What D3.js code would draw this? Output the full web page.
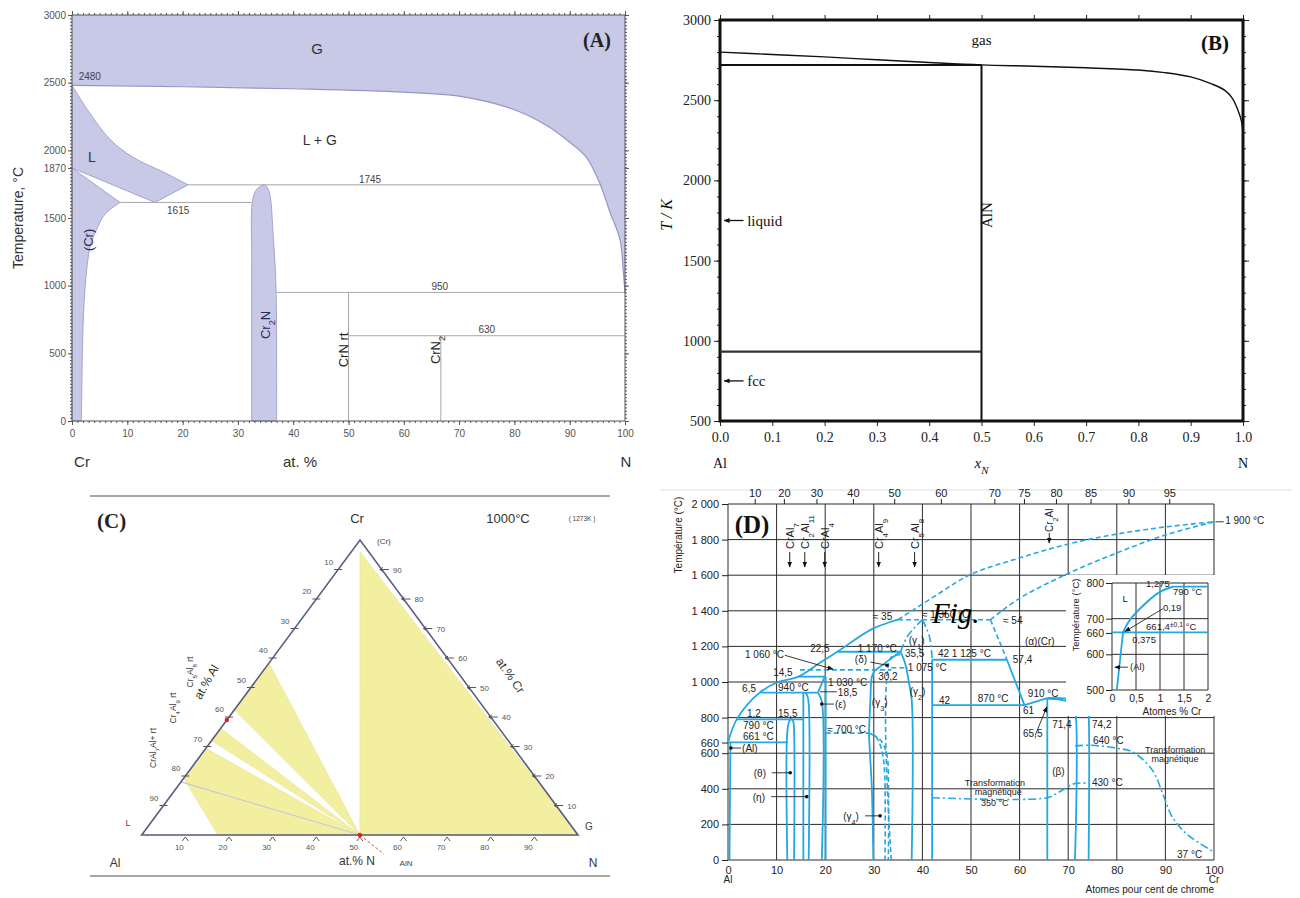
<!DOCTYPE html>
<html>
<head>
<meta charset="utf-8">
<script src="https://cdn.jsdelivr.net/npm/d3@7/dist/d3.min.js"></script>
<style>
  body { margin: 0; background: #fff; }
  svg { display: block; }
</style>
</head>
<body>
<svg id="fig" width="1300" height="898"></svg>
<script>
// ---------------- (A) Cr–N binary ----------------
const aTicksY = [0, 500, 1000, 1500, 1870, 2000, 2500, 3000];
const aTicksX = [0, 10, 20, 30, 40, 50, 60, 70, 80, 90, 100];
const aGasBoundary = [[0,2480],[20,2470],[40,2455],[60,2430],[70,2400],[80,2300],[86,2180],[90,2060],[93,1950],[95.5,1750],[97.3,1540],[99.1,1340],[99.7,1100],[100,950]];
const aLiquidUpper = [[0,2480],[2.8,2300],[6.9,2080],[11,1950],[17,1830],[21,1745]];
const aLiquidLower = [[21,1745],[15,1615],[0,1870]];
const aCrSolvus = [[8.7,1615],[6,1530],[4.5,1420],[3.3,1290],[2.5,1050],[2,700],[1.8,300],[1.7,0]];
const aCr2N = [[32.5,0],[32.5,1200],[32.6,1615],[33.3,1705],[34.8,1745],[35.6,1700],[36.4,1360],[36.9,970],[37,400],[37,0]];
const aIsotherms = [[1745,21,95.8],[1615,8.7,32.5],[950,37,100],[630,50,100]];
const aVerticals = [[50,0,950],[66.7,0,630]];

// ---------------- (B) Al–N binary ----------------
const bTicksX = [0, 0.1, 0.2, 0.3, 0.4, 0.5, 0.6, 0.7, 0.8, 0.9, 1.0];
const bTicksY = [500, 1000, 1500, 2000, 2500, 3000];
const bGasLine = [[0,2800],[0.1,2785],[0.2,2770],[0.3,2752],[0.4,2735],[0.5,2720],[0.6,2712],[0.7,2702],[0.8,2688],[0.85,2672],[0.9,2645],[0.94,2602],[0.966,2560],[0.98,2510],[0.99,2440],[0.997,2370],[1.0,2300]];
const bAlNMelt = 2720;
const bAlMelt = 933;
const bAlNx = 0.5;

// ---------------- (C) Al–Cr–N isothermal section, 1000 °C (Al, Cr, N at.%) ----------------
const cTicks = [10, 20, 30, 40, 50, 60, 70, 80, 90];
const cRegions = [
  [[2,96,2],[50,0,50],[0,0,100]],
  [[41.7,58.3,0],[57.6,42.4,0],[50,0,50]],
  [[63.8,36.2,0],[68,32,0],[50,0,50]],
  [[70.6,29.4,0],[80.8,19.2,0],[82.5,0,17.5],[50,0,50]]
];
const cTieLine = [[82,18,0],[50,0,50]];
const cRedDots = [[61,39,0],[50,0,50]];

// ---------------- (D) Al–Cr binary ----------------
const dTicksY = [0, 200, 400, 600, 660, 800, 1000, 1200, 1400, 1600, 1800, 2000];
const dTicksX = [0, 10, 20, 30, 40, 50, 60, 70, 80, 90, 100];
const dTopLabels = ['10','20','30','40','50','60','70','75','80','85','90','95'];
const dTopAt = [5.5, 11.5, 18.2, 25.7, 34.2, 43.8, 54.8, 60.9, 67.5, 74.6, 82.4, 90.8];
const dCompounds = [['CrAl_{7}',12.7],['Cr_{2}Al_{11}',15.8],['CrAl_{4}',19.9],['Cr_{4}Al_{9}',31],['Cr_{5}Al_{8}',38.4]];
const dCr2Al = ['Cr_{2}Al', 66.1];
const dSolid = [
  [[0,660],[1.8,790],[6.5,940],[10.3,1000],[14.5,1030],[19,1110],[22.5,1170],[29.8,1300],[35,1350]],
  [[0.3,0],[0.5,660]],
  [[0,661],[12.3,661]],
  [[1.8,790],[15.5,790]],
  [[6.5,940],[18.5,940]],
  [[14.5,1030],[20.1,1030]],
  [[22.5,1170],[35.5,1170]],
  [[42,1125],[57.4,1125]],
  [[42,870],[61,870]],
  [[57.4,1125],[61,870]],
  [[61,870],[65.7,910]],
  [[12.2,0],[12.2,720],[12.6,780],[13,792],[13.4,780],[13.6,720],[13.6,0]],
  [[15.5,0],[15.5,940]],
  [[16.6,0],[16.6,880],[16.3,925],[15.9,940]],
  [[19.3,0],[19.3,890],[18.5,940]],
  [[18.5,940],[19.9,1030]],
  [[20.1,0],[20.1,1030]],
  [[29.9,0],[29.6,400],[29.2,600],[29,713]],
  [[29,713],[29.3,900],[29.6,1030],[30.2,1065]],
  [[30.2,1065],[33,1120],[35.5,1170]],
  [[35.5,1170],[36.5,1100],[37.2,1000],[37.8,900],[37.8,0]],
  [[42,0],[42,1125]],
  [[65.7,0],[65.7,910]],
  [[65.7,905],[68.5,900],[70.8,880],[71.4,850],[71.4,0]],
  [[65.7,910],[69,908],[72.5,895],[74,860],[74.2,820],[74.2,0]]
];
const dDashed = [
  [[35,1350],[43,1490],[50,1605],[60,1697],[70,1775],[80,1831],[90,1871],[100,1900]],
  [[54,1350],[60,1470],[70,1610],[80,1725],[90,1826],[100,1900]],
  [[35,1350],[54,1350]],
  [[54,1350],[57.4,1125]],
  [[14.8,1068],[33.6,1068]],
  [[33.6,1080],[37,1080]],
  [[20.1,713],[29,713]],
  [[29,713],[30.5,690],[31.6,620],[32.2,500],[32.3,0]],
  [[29.8,705],[31.5,670],[32.7,590],[33,450],[33,0]],
  [[33.6,0],[33.6,1140],[36,1150]]
];
const dDashDot = [
  [[35.5,1170],[37,1260],[40,1350]],
  [[40,1350],[41.5,1250],[42,1125]],
  [[42,350],[65.7,350],[68,380],[71.4,430],[74.2,430]],
  [[71.4,640],[74.2,645],[80,628],[83.3,606],[87.3,505],[89.7,354],[91.4,242],[94.2,150],[97,95],[100,45]]
];
// inset: Al-rich corner
const iTicksY = [500, 600, 660, 700, 800];
const iTicksX = [0, 0.5, 1, 1.5, 2];
const iLiquidus = [[0.23,661.4],[0.375,697],[0.73,747],[1.0,775],[1.275,790]];
const iLines = [[[1.275,790],[2,790]], [[0,661.4],[2,661.4]], [[0.1,500],[0.23,661.4]]];

// ================= drawing =================
const SANS = "'Liberation Sans', Arial, sans-serif";
const SERIF = "'Liberation Serif', 'Times New Roman', serif";
const svg = d3.select('#fig');

const defs = svg.append('defs');
defs.append('marker').attr('id', 'arr').attr('viewBox', '0 0 10 10').attr('refX', 9).attr('refY', 5)
  .attr('markerWidth', 6).attr('markerHeight', 6).attr('markerUnits', 'userSpaceOnUse').attr('orient', 'auto')
  .append('path').attr('d', 'M0,1 L10,5 L0,9 Z').attr('fill', '#111');

function rich(t, str) {
  str.split(/(_\{[^}]*\}|\^\{[^}]*\})/).forEach(p => {
    if (!p) return;
    if (p[0] === '_') t.append('tspan').attr('baseline-shift', 'sub').attr('font-size', '72%').text(p.slice(2, -1));
    else if (p[0] === '^') t.append('tspan').attr('baseline-shift', 'super').attr('font-size', '72%').text(p.slice(2, -1));
    else t.append('tspan').text(p);
  });
}
function label(g, x, y, str, o = {}) {
  const t = g.append('text')
    .attr('font-family', o.font || SANS).attr('font-size', o.size || 10)
    .attr('fill', o.fill || '#222').attr('text-anchor', o.anchor || 'start');
  if (o.weight) t.attr('font-weight', o.weight);
  if (o.italic) t.attr('font-style', 'italic');
  if (o.rotate != null) t.attr('transform', `translate(${x},${y}) rotate(${o.rotate})`);
  else t.attr('x', x).attr('y', y);
  rich(t, str);
  return t;
}
function styleAxis(g, color, font, size) {
  g.select('.domain').remove();
  g.selectAll('line').attr('stroke', color);
  g.selectAll('text').attr('fill', color).attr('font-family', font).attr('font-size', size);
}

// ---------- panel A ----------
const aX = d3.scaleLinear([0, 100], [72, 625]);
const aY = d3.scaleLinear([0, 3000], [421, 15]);
const aCurve = d3.line().x(d => aX(d[0])).y(d => aY(d[1])).curve(d3.curveCatmullRom);
const aLin = d3.line().x(d => aX(d[0])).y(d => aY(d[1]));
const gA = svg.append('g');
const LAV = '#c8c8e7', LAV_EDGE = '#9696c6';

gA.append('path')
  .attr('d', aCurve(aGasBoundary) + `L${aX(100)},${aY(3000)}L${aX(0)},${aY(3000)}Z`)
  .attr('fill', LAV).attr('stroke', 'none');
gA.append('path').attr('d', aCurve(aGasBoundary)).attr('fill', 'none').attr('stroke', LAV_EDGE).attr('stroke-width', 1.2);
gA.append('path')
  .attr('d', aCurve(aLiquidUpper) + aLin(aLiquidLower).replace('M', 'L') + 'Z')
  .attr('fill', LAV).attr('stroke', LAV_EDGE).attr('stroke-width', 0.8);
gA.append('path')
  .attr('d', `M${aX(0)},${aY(0)}L${aX(0)},${aY(1870)}` + aCurve(aCrSolvus).replace('M', 'L') + 'Z')
  .attr('fill', LAV).attr('stroke', LAV_EDGE).attr('stroke-width', 0.8);
gA.append('path').attr('d', aCurve(aCr2N) + 'Z')
  .attr('fill', LAV).attr('stroke', LAV_EDGE).attr('stroke-width', 0.8);

gA.selectAll('line.iso').data(aIsotherms).join('line')
  .attr('x1', d => aX(d[1])).attr('x2', d => aX(d[2])).attr('y1', d => aY(d[0])).attr('y2', d => aY(d[0]))
  .attr('stroke', '#a8a8a8').attr('stroke-width', 1);
gA.selectAll('line.vert').data(aVerticals).join('line')
  .attr('x1', d => aX(d[0])).attr('x2', d => aX(d[0])).attr('y1', d => aY(d[1])).attr('y2', d => aY(d[2]))
  .attr('stroke', '#a8a8a8').attr('stroke-width', 1);

// axes A
const axA = [
  [d3.axisLeft(aY).tickValues(aTicksY).tickSize(4).tickPadding(2).tickFormat(d3.format('d')), `translate(${aX(0)},0)`],
  [d3.axisLeft(aY).tickValues(d3.range(0, 3001, 25)).tickSize(2).tickFormat(''), `translate(${aX(0)},0)`],
  [d3.axisRight(aY).tickValues(d3.range(0, 3001, 25)).tickSize(2).tickFormat(''), `translate(${aX(100)},0)`],
  [d3.axisRight(aY).tickValues(aTicksY).tickSize(4).tickFormat(''), `translate(${aX(100)},0)`],
  [d3.axisBottom(aX).tickValues(aTicksX).tickSize(4).tickPadding(5), `translate(0,${aY(0)})`],
  [d3.axisBottom(aX).tickValues(d3.range(0, 101, 1)).tickSize(2).tickFormat(''), `translate(0,${aY(0)})`],
  [d3.axisTop(aX).tickValues(d3.range(0, 101, 1)).tickSize(2).tickFormat(''), `translate(0,${aY(3000)})`],
  [d3.axisTop(aX).tickValues(aTicksX).tickSize(4).tickFormat(''), `translate(0,${aY(3000)})`]
];
axA.forEach(([ax, tr]) => gA.append('g').attr('transform', tr).call(ax).call(g => styleAxis(g, '#555', SANS, 10)));
gA.append('rect').attr('x', aX(0)).attr('y', aY(3000)).attr('width', aX(100) - aX(0)).attr('height', aY(0) - aY(3000))
  .attr('fill', 'none').attr('stroke', '#555').attr('stroke-width', 1);

[['G', 44.3, 2712, 15], ['L + G', 44.8, 2040, 14], ['L', 3.6, 1914, 14]].forEach(d =>
  label(gA, aX(d[1]), aY(d[2]), d[0], { size: d[3], anchor: 'middle', fill: '#333' }));
[['2480', 1.2, 2520, 'start'], ['1745', 53.9, 1759, 'middle'], ['1615', 19.2, 1530, 'middle'], ['950', 66.5, 968, 'middle'], ['630', 75, 650, 'middle']]
  .forEach(d => label(gA, aX(d[1]), aY(d[2]), d[0], { size: 10, anchor: d[3], fill: '#444' }));
[['(Cr)', 2.9, 1338, '#2a2a5a'], ['Cr_{2}N', 34.9, 710, '#2a2a5a'], ['CrN rt', 49, 525, '#222'], ['CrN_{2}', 65.6, 525, '#222']]
  .forEach(d => label(gA, aX(d[1]) + 5, aY(d[2]), d[0], { size: 13, anchor: 'middle', rotate: -90, fill: d[3] }));
label(gA, 23, 218, 'Temperature, °C', { size: 14, anchor: 'middle', rotate: -90, fill: '#333' });
label(gA, 82, 467, 'Cr', { size: 15, anchor: 'middle', fill: '#333' });
label(gA, 300, 467, 'at. %', { size: 15, anchor: 'middle', fill: '#333' });
label(gA, 626, 467, 'N', { size: 15, anchor: 'middle', fill: '#333' });
label(gA, 597, 47, '(A)', { size: 20, anchor: 'middle', font: SERIF, weight: 'bold', fill: '#222' });

// ---------- panel B ----------
const bX = d3.scaleLinear([0, 1], [720, 1243]);
const bY = d3.scaleLinear([500, 3000], [421, 20]);
const gB = svg.append('g');
const bLine = d3.line().x(d => bX(d[0])).y(d => bY(d[1])).curve(d3.curveCatmullRom);
const axB = [
  [d3.axisBottom(bX).tickValues(bTicksX).tickSize(5).tickPadding(6).tickFormat(d3.format('.1f')), `translate(0,${bY(500)})`],
  [d3.axisTop(bX).tickValues(bTicksX).tickSize(5).tickFormat(''), `translate(0,${bY(3000)})`],
  [d3.axisLeft(bY).tickValues(bTicksY).tickSize(6).tickPadding(3).tickFormat(d3.format('d')), `translate(${bX(0)},0)`],
  [d3.axisLeft(bY).tickValues(d3.range(500, 3001, 100)).tickSize(3).tickFormat(''), `translate(${bX(0)},0)`],
  [d3.axisRight(bY).tickValues(bTicksY).tickSize(6).tickFormat(''), `translate(${bX(1)},0)`],
  [d3.axisRight(bY).tickValues(d3.range(500, 3001, 100)).tickSize(3).tickFormat(''), `translate(${bX(1)},0)`]
];
axB.forEach(([ax, tr]) => gB.append('g').attr('transform', tr).call(ax).call(g => styleAxis(g, '#222', SERIF, 14)));
gB.append('rect').attr('x', bX(0)).attr('y', bY(3000)).attr('width', bX(1) - bX(0)).attr('height', bY(500) - bY(3000))
  .attr('fill', 'none').attr('stroke', '#111').attr('stroke-width', 3);
gB.append('path').attr('d', bLine(bGasLine)).attr('fill', 'none').attr('stroke', '#111').attr('stroke-width', 1.4);
gB.append('line').attr('x1', bX(0)).attr('x2', bX(bAlNx)).attr('y1', bY(bAlNMelt)).attr('y2', bY(bAlNMelt)).attr('stroke', '#111').attr('stroke-width', 2);
gB.append('line').attr('x1', bX(bAlNx)).attr('x2', bX(bAlNx)).attr('y1', bY(bAlNMelt)).attr('y2', bY(500)).attr('stroke', '#111').attr('stroke-width', 2);
gB.append('line').attr('x1', bX(0)).attr('x2', bX(bAlNx)).attr('y1', bY(bAlMelt)).attr('y2', bY(bAlMelt)).attr('stroke', '#333').attr('stroke-width', 2.2);
[[1750, 'liquid'], [750, 'fcc']].forEach(d => {
  gB.append('line').attr('x1', bX(0.045)).attr('x2', bX(0.008)).attr('y1', bY(d[0])).attr('y2', bY(d[0]))
    .attr('stroke', '#111').attr('stroke-width', 1.3).attr('marker-end', 'url(#arr)');
  label(gB, bX(0.052), bY(d[0]) + 5, d[1], { size: 15, font: SERIF, fill: '#111' });
});
label(gB, bX(0.5), bY(2844), 'gas', { size: 15, font: SERIF, anchor: 'middle', fill: '#111' });
label(gB, bX(0.53) - 5, bY(1784), 'AlN', { size: 15, font: SERIF, anchor: 'middle', rotate: -90, fill: '#111' });
label(gB, 1215, 50, '(B)', { size: 21, font: SERIF, weight: 'bold', anchor: 'middle', fill: '#111' });
label(gB, 672, 215, 'T / K', { size: 16, font: SERIF, italic: true, anchor: 'middle', rotate: -90, fill: '#111' });
label(gB, bX(0), 468, 'Al', { size: 14, font: SERIF, anchor: 'middle', fill: '#111' });
label(gB, bX(0.5), 468, 'x_{N}', { size: 15, font: SERIF, italic: true, anchor: 'middle', fill: '#111' });
label(gB, bX(1), 468, 'N', { size: 14, font: SERIF, anchor: 'middle', fill: '#111' });

// ---------- panel C ----------
const gC = svg.append('g');
const vAl = [141.7, 835], vCr = [360, 540], vN = [578, 835];
const tern = p => {
  const s = p[0] + p[1] + p[2];
  return [(vAl[0] * p[0] + vCr[0] * p[1] + vN[0] * p[2]) / s, (vAl[1] * p[0] + vCr[1] * p[1] + vN[1] * p[2]) / s];
};
gC.append('line').attr('x1', 90).attr('x2', 610).attr('y1', 496).attr('y2', 496).attr('stroke', '#888').attr('stroke-width', 1.5);
gC.append('line').attr('x1', 90).attr('x2', 610).attr('y1', 876).attr('y2', 876).attr('stroke', '#888').attr('stroke-width', 1.5);
gC.selectAll('path.reg').data(cRegions).join('path')
  .attr('d', d => d3.line()(d.map(tern)) + 'Z').attr('fill', '#f3efa0').attr('stroke', '#e9e48a').attr('stroke-width', 0.6);
gC.append('path').attr('d', d3.line()(cTieLine.map(tern))).attr('stroke', '#c9c9d6').attr('stroke-width', 1.2);
gC.append('path').attr('d', d3.line()([[100,0,0],[0,100,0],[0,0,100]].map(tern)) + 'Z')
  .attr('fill', 'none').attr('stroke', '#5a5a80').attr('stroke-width', 1.6);
const pAlN = tern([50, 0, 50]);
gC.append('line').attr('x1', pAlN[0]).attr('y1', pAlN[1]).attr('x2', pAlN[0] + 24).attr('y2', pAlN[1] + 19)
  .attr('stroke', '#e05050').attr('stroke-width', 1).attr('stroke-dasharray', '3,2');
gC.selectAll('circle.red').data(cRedDots).join('circle')
  .attr('cx', d => tern(d)[0]).attr('cy', d => tern(d)[1]).attr('r', 2.2).attr('fill', '#e02020');
cTicks.forEach(v => {
  const l = tern([v, 100 - v, 0]);
  gC.append('line').attr('x1', l[0] - 4).attr('x2', l[0] + 4).attr('y1', l[1]).attr('y2', l[1]).attr('stroke', '#555');
  label(gC, l[0] - 5, l[1] - 5, String(v), { size: 8, anchor: 'end', fill: '#555' });
  const r = tern([0, v, 100 - v]);
  gC.append('line').attr('x1', r[0] - 2).attr('x2', r[0] + 7).attr('y1', r[1]).attr('y2', r[1]).attr('stroke', '#555');
  gC.append('path').attr('d', `M${r[0] + 1},${r[1] - 2}L${r[0] - 2},${r[1]}L${r[0] + 1},${r[1] + 2}`).attr('fill', 'none').attr('stroke', '#555');
  label(gC, r[0] + 11, r[1] + 3, String(v), { size: 8, fill: '#555' });
  const b = tern([100 - v, 0, v]);
  gC.append('path').attr('d', `M${b[0] - 3},${b[1] + 6}L${b[0]},${b[1] + 2}L${b[0] + 3},${b[1] + 6}`).attr('fill', 'none').attr('stroke', '#555');
  label(gC, b[0] - 6, b[1] + 15, String(v), { size: 8, anchor: 'middle', fill: '#555' });
});
label(gC, 97, 528, '(C)', { size: 21, font: SERIF, weight: 'bold', fill: '#222' });
label(gC, 357, 523, 'Cr', { size: 13, anchor: 'middle', fill: '#333' });
label(gC, 508, 523, '1000°C', { size: 13, anchor: 'middle', fill: '#333' });
label(gC, 582, 521, '( 1273K )', { size: 6.5, anchor: 'middle', fill: '#444' });
label(gC, 377, 544, '(Cr)', { size: 8, fill: '#444' });
label(gC, 128, 826, 'L', { size: 9, anchor: 'middle', fill: '#444' });
label(gC, 589, 830, 'G', { size: 10, anchor: 'middle', fill: '#444' });
label(gC, 115, 867, 'Al', { size: 12, anchor: 'middle', fill: '#333' });
label(gC, 593, 867, 'N', { size: 12, anchor: 'middle', fill: '#333' });
label(gC, 357, 865, 'at.% N', { size: 12, anchor: 'middle', fill: '#333' });
label(gC, 406, 866, 'AlN', { size: 8, anchor: 'middle', fill: '#444' });
label(gC, 210, 684, 'at.% Al', { size: 12, anchor: 'middle', rotate: -60, fill: '#333' });
label(gC, 507, 678, 'at.% Cr', { size: 12, anchor: 'middle', rotate: 55, fill: '#333' });
[['Cr_{5}Al_{8} rt', 190, 672], ['Cr_{4}Al_{9} rt', 173, 708], ['CrAl_{7}Al+ rt', 153, 748]]
  .forEach(d => label(gC, d[1] + 3, d[2], d[0], { size: 8.5, anchor: 'middle', rotate: -90, fill: '#333' }));

// ---------- panel D ----------
const dX = d3.scaleLinear([0, 100], [728, 1214]);
const dY = d3.scaleLinear([0, 2000], [860, 504]);
const gD = svg.append('g');
const CYAN = '#22a8e2';
const dLine = d3.line().x(d => dX(d[0])).y(d => dY(d[1])).curve(d3.curveCatmullRom);

gD.append('line').attr('x1', 660).attr('x2', 1292).attr('y1', 490).attr('y2', 490).attr('stroke', '#ddd');
gD.selectAll('line.gx').data(dTicksX).join('line')
  .attr('x1', d => dX(d)).attr('x2', d => dX(d)).attr('y1', dY(0)).attr('y2', dY(2000)).attr('stroke', '#2a2a2a').attr('stroke-width', 1);
gD.selectAll('line.gy').data(d3.range(0, 2001, 200)).join('line')
  .attr('x1', dX(0)).attr('x2', dX(100)).attr('y1', d => dY(d)).attr('y2', d => dY(d)).attr('stroke', '#2a2a2a').attr('stroke-width', 1);
gD.append('g').attr('transform', `translate(${dX(0)},0)`)
  .call(d3.axisLeft(dY).tickValues(dTicksY).tickSize(6).tickPadding(3).tickFormat(d => d >= 1000 ? d3.format(',')(d).replace(',', ' ') : d))
  .call(g => styleAxis(g, '#222', SANS, 11));
gD.append('g').attr('transform', `translate(0,${dY(0)})`)
  .call(d3.axisBottom(dX).tickValues(dTicksX).tickSize(0).tickPadding(6))
  .call(g => styleAxis(g, '#222', SANS, 11));
gD.append('g').attr('transform', `translate(0,${dY(2000)})`)
  .call(d3.axisTop(dX).tickValues(dTopAt).tickSize(5).tickPadding(2).tickFormat((d, i) => dTopLabels[i]))
  .call(g => styleAxis(g, '#222', SANS, 11));

gD.selectAll('path.sol').data(dSolid).join('path').attr('d', dLine).attr('fill', 'none').attr('stroke', CYAN).attr('stroke-width', 1.8);
gD.selectAll('path.dsh').data(dDashed).join('path').attr('d', dLine).attr('fill', 'none').attr('stroke', CYAN).attr('stroke-width', 1.6).attr('stroke-dasharray', '5,3');
gD.selectAll('path.dd').data(dDashDot).join('path').attr('d', dLine).attr('fill', 'none').attr('stroke', CYAN).attr('stroke-width', 1.6).attr('stroke-dasharray', '8,3,2,3');

dCompounds.forEach(d => {
  label(gD, dX(d[1]) + 4, 549, d[0], { size: 11, rotate: -90, fill: '#222' });
  gD.append('line').attr('x1', dX(d[1])).attr('x2', dX(d[1])).attr('y1', 552).attr('y2', 567)
    .attr('stroke', '#222').attr('stroke-width', 1).attr('marker-end', 'url(#arr)');
});
label(gD, dX(dCr2Al[1]) + 4, 532, dCr2Al[0], { size: 10, rotate: -90, fill: '#222' });
gD.append('line').attr('x1', dX(dCr2Al[1])).attr('x2', dX(dCr2Al[1])).attr('y1', 533).attr('y2', 543)
  .attr('stroke', '#222').attr('marker-end', 'url(#arr)');

const dNotes = [
  ['≈ 35', 29.8, 1348], ['≈ 1 350 °C', 39.9, 1362], ['≈ 54', 56.6, 1326], ['(α)(Cr)', 61.1, 1208],
  ['42  1 125 °C', 43.2, 1140], ['57,4', 58.6, 1107], ['22,5', 16.9, 1168], ['1 170 °C', 26.7, 1168],
  ['35,5', 36.4, 1140], ['(γ_{1})', 37.2, 1213], ['1 060 °C', 3.5, 1135], ['(δ)', 26.1, 1107],
  ['1 075 °C', 37, 1062], ['14,5', 9.3, 1034], ['30,2', 30.9, 1011], ['6,5', 2.9, 944],
  ['940 °C', 10.3, 949], ['1 030 °C', 20.6, 978], ['18,5', 22.6, 921], ['(ε)', 22, 854],
  ['(γ_{3})', 29.6, 865], ['(γ_{2})', 37.4, 927], ['42', 43.4, 876], ['870 °C', 51.4, 888],
  ['910 °C', 61.7, 916], ['61', 60.7, 820], ['65,5', 60.7, 691], ['71,4', 66.7, 742], ['74,2', 74.9, 742],
  ['640 °C', 75.1, 652], ['(β)', 66.7, 478], ['430 °C', 74.9, 416], ['37 °C', 92.4, 11],
  ['1,2', 3.9, 803], ['15,5', 10.3, 803], ['790 °C', 3.1, 736], ['661 °C', 3.1, 674], ['(Al)', 2.9, 607],
  ['(θ)', 5.3, 466], ['(η)', 5.1, 331], ['(γ_{4})', 23.7, 225], ['≈ 700 °C', 20.4, 713], ['1 900 °C', 102.3, 1888]
];
dNotes.forEach(d => label(gD, dX(d[1]), dY(d[2]), d[0], { size: 10, fill: '#222' }));
[['Transformation', 92, 600], ['magnétique', 92, 549], ['Transformation', 54.9, 416], ['magnétique', 55.6, 366], ['350 °C', 54.9, 304]]
  .forEach(d => label(gD, dX(d[1]), dY(d[2]), d[0], { size: 9, anchor: 'middle', fill: '#222' }));
// pointer lines: [from, to, dot at 0 none / 1 start / 2 end]
const dPointers = [
  [[0.6,629],[2.7,629],1], [[9.0,490],[12.8,490],2], [[8.9,356],[16.2,356],2], [[28.2,248],[31.3,248],2],
  [[19.3,876],[21.8,876],1], [[18.9,945],[22.4,945],0], [[29.3,1112],[32.7,1094],2], [[100.3,1900],[102,1900],0]
];
dPointers.forEach(d => {
  gD.append('line').attr('x1', dX(d[0][0])).attr('y1', dY(d[0][1])).attr('x2', dX(d[1][0])).attr('y2', dY(d[1][1]))
    .attr('stroke', '#222').attr('stroke-width', 0.9);
  if (d[2]) {
    const p = d[2] === 1 ? d[0] : d[1];
    gD.append('circle').attr('cx', dX(p[0])).attr('cy', dY(p[1])).attr('r', 1.8).attr('fill', '#111');
  }
});
[[[11.7,1150],[21.6,1072]], [[63.2,700],[65.6,860]]].forEach(d =>
  gD.append('line').attr('x1', dX(d[0][0])).attr('y1', dY(d[0][1])).attr('x2', dX(d[1][0])).attr('y2', dY(d[1][1]))
    .attr('stroke', '#222').attr('stroke-width', 0.9).attr('marker-end', 'url(#arr)'));
label(gD, 682, 535, 'Température (°C)', { size: 10, anchor: 'middle', rotate: -90, fill: '#222' });
label(gD, dX(0), 883, 'Al', { size: 10, anchor: 'middle', fill: '#222' });
label(gD, dX(100), 883, 'Cr', { size: 10, anchor: 'middle', fill: '#222' });
label(gD, dX(100), 893, 'Atomes pour cent de chrome', { size: 10, anchor: 'end', fill: '#222' });
label(gD, 752, 533, '(D)', { size: 25, font: SERIF, weight: 'bold', anchor: 'middle', fill: '#111' });

// inset
const iX = d3.scaleLinear([0, 2], [1112, 1208]);
const iY = d3.scaleLinear([500, 800], [690, 583]);
const iLine = d3.line().x(d => iX(d[0])).y(d => iY(d[1])).curve(d3.curveCatmullRom);
const gI = gD.append('g');
gI.append('rect').attr('x', 1066).attr('y', 575).attr('width', 152).attr('height', 141).attr('fill', '#fff');
gI.selectAll('line.ix').data(iTicksX).join('line')
  .attr('x1', d => iX(d)).attr('x2', d => iX(d)).attr('y1', iY(500)).attr('y2', iY(800)).attr('stroke', '#2a2a2a');
gI.selectAll('line.iy').data([500, 600, 700, 800]).join('line')
  .attr('x1', iX(0)).attr('x2', iX(2)).attr('y1', d => iY(d)).attr('y2', d => iY(d)).attr('stroke', '#2a2a2a');
gI.append('g').attr('transform', `translate(${iX(0)},0)`)
  .call(d3.axisLeft(iY).tickValues(iTicksY).tickSize(6).tickPadding(2)).call(g => styleAxis(g, '#222', SANS, 10.5));
gI.append('g').attr('transform', `translate(0,${iY(500)})`)
  .call(d3.axisBottom(iX).tickValues(iTicksX).tickSize(0).tickPadding(5).tickFormat(d => String(d).replace('.', ',')))
  .call(g => styleAxis(g, '#222', SANS, 10.5));
gI.append('path').attr('d', iLine(iLiquidus)).attr('fill', 'none').attr('stroke', CYAN).attr('stroke-width', 2);
gI.selectAll('path.il').data(iLines).join('path').attr('d', iLine).attr('fill', 'none').attr('stroke', CYAN).attr('stroke-width', 1.8);
[[[1.06,728],[0.27,664]], [[0.33,564],[0.06,564]]].forEach(d =>
  gI.append('line').attr('x1', iX(d[0][0])).attr('y1', iY(d[0][1])).attr('x2', iX(d[1][0])).attr('y2', iY(d[1][1]))
    .attr('stroke', '#222').attr('stroke-width', 0.9).attr('marker-end', 'url(#arr)'));
[['L', 0.22, 748], ['1,275', 0.71, 790], ['790 °C', 1.27, 766], ['0,19', 1.06, 721], ['661,4^{±0,1} °C', 0.71, 668], ['0,375', 0.42, 632], ['(Al)', 0.375, 556]]
  .forEach(d => label(gI, iX(d[1]), iY(d[2]), d[0], { size: 9.5, fill: '#222' }));
label(gI, 1079, 615, 'Température (°C)', { size: 9.5, anchor: 'middle', rotate: -90, fill: '#222' });
label(gI, 1172, 715, 'Atomes % Cr', { size: 10, anchor: 'middle', fill: '#222' });

// stray caption overlapping panel D
label(svg, 932, 623, 'Fig.', { size: 29, font: SERIF, italic: true, fill: '#000' });
</script>
</body>
</html>
